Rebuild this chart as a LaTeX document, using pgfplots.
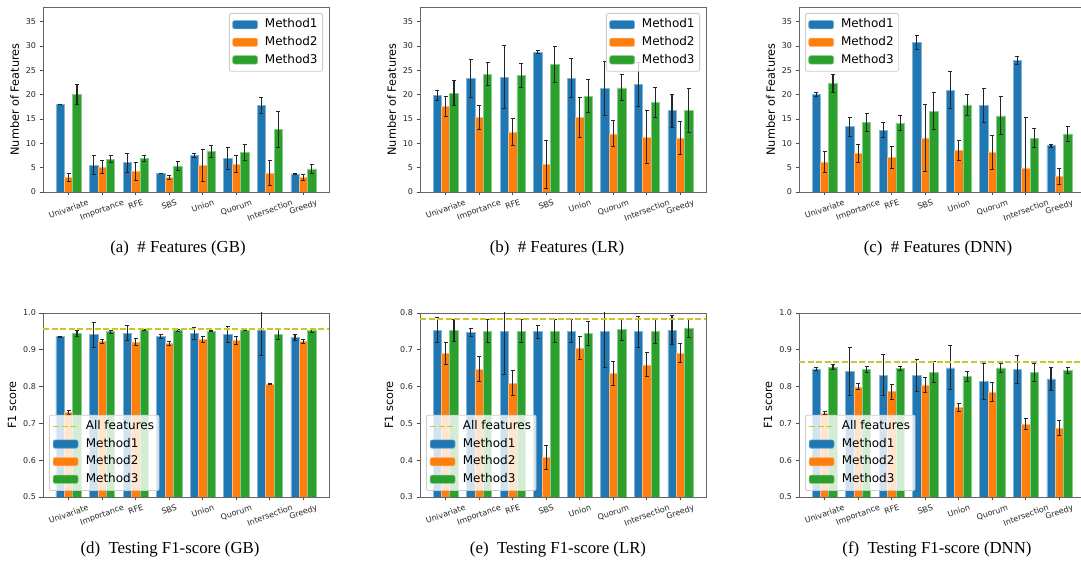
\documentclass[border=0pt]{standalone}
\usepackage{fontspec}
\setmainfont{DejaVu Sans}
\newfontfamily\capfont{Liberation Serif}
\usepackage{graphicx}
\usepackage{pgfplots}
\pgfplotsset{compat=1.18}
\definecolor{c1}{HTML}{1F77B4}
\definecolor{c2}{HTML}{FF7F0E}
\definecolor{c3}{HTML}{2CA02C}
\definecolor{yl}{RGB}{200,200,40}
\newcommand{\tickfont}{\fontsize{8}{9.6}\selectfont}
\newcommand{\labfont}{\fontsize{11.3}{13.5}\selectfont}
\newcommand{\legfont}{\fontsize{12}{14}\selectfont}
\newcommand{\capf}{\capfont\fontsize{16.8}{19}\selectfont}
\pgfplotsset{
 barleg/.style={legend image code/.code={\fill[##1,fill opacity=1] (0pt,-4.2pt) rectangle (25pt,4.2pt);}},
 lineleg/.style={legend image code/.code={\draw[##1,draw opacity=1] (0pt,0pt) -- (25pt,0pt);}},
 mybar/.style={ybar, bar width=0.25, bar shift=0pt, fill=#1, draw=#1!55!white, line width=0.6pt, barleg,
   /pgfplots/error bars/y dir=both, /pgfplots/error bars/y explicit,
   /pgfplots/error bars/error bar style={line width=1.1pt, black!85},
   /pgfplots/error bars/error mark options={rotate=90, black!85, line width=1pt, mark size=2pt}},
 refline/.style={yl, dash pattern=on 6pt off 2.6pt, line width=1.4pt},
 base/.style={scale only axis, width=286pt, xmin=-0.7625, xmax=7.7625,
   xtick={0,...,7},
   xticklabels={\rotatebox{20}{Univariate},\rotatebox{20}{Importance},\rotatebox{20}{RFE},\rotatebox{20}{SBS},\rotatebox{20}{Union},\rotatebox{20}{Quorum},\rotatebox{20}{Intersection},\rotatebox{20}{Greedy}},
   tick align=outside, tick pos=left, major tick length=3.5pt,
   axis line style={black!60, line width=0.8pt},
   tick style={black!70, line width=0.8pt},
   ticklabel style={font=\tickfont, text=black!85},
   xticklabel style={anchor=north},
   /pgf/number format/assume math mode=true,
   label style={font=\labfont},
   legend cell align=left,
   legend style={font=\legfont, draw=black!20, line width=0.8pt, rounded corners=2pt, fill=white, fill opacity=0.8, text opacity=1, draw opacity=1, inner xsep=3pt, inner ysep=2.5pt, row sep=0pt, /tikz/every odd column/.append style={column sep=5pt}, nodes={inner ysep=3.2pt, inner xsep=2pt, text height=8.8pt, text depth=2.4pt}},
 },
 toprow/.style={base, height=185pt, ymin=0, ymax=38, ytick={0,5,...,35}, ylabel={Number of Features}},
 botrow/.style={base, height=184pt, ylabel={F1 score}, ytick distance=0.1,
   yticklabel style={/pgf/number format/.cd, fixed, fixed zerofill, precision=1, assume math mode=true}},
 legTR/.style={legend style={at={(1,1)}, anchor=north east, xshift=-6pt, yshift=-6pt}},
 legTL/.style={legend style={at={(0,1)}, anchor=north west, xshift=6pt, yshift=-6pt}},
 legBL/.style={legend style={at={(0,0)}, anchor=south west, xshift=6pt, yshift=6pt}},
}
\begin{document}
\begin{tikzpicture}
\useasboundingbox (0,0) rectangle (1081pt,564pt);
% (a) # Features (GB)
\begin{axis}[toprow, legTR, at={(43pt,372pt)}, anchor=south west]
\addplot[mybar=c1] coordinates {(-0.25,18.0) +- (0,0.05) (0.75,5.5) +- (0,1.9) (1.75,6.0) +- (0,1.95) (2.75,3.85) +- (0,0.05) (3.75,7.45) +- (0,0.45) (4.75,6.85) +- (0,2.25) (5.75,17.75) +- (0,1.6) (6.75,3.7) +- (0,0.05)};
\addlegendentry{Method1}
\addplot[mybar=c2] coordinates {(0,3.0) +- (0,0.75) (1,5.15) +- (0,1.4) (2,4.25) +- (0,1.8) (3,2.95) +- (0,0.45) (4,5.5) +- (0,3.3) (5,5.75) +- (0,1.8) (6,3.9) +- (0,2.55) (7,2.95) +- (0,0.6)};
\addlegendentry{Method2}
\addplot[mybar=c3] coordinates {(0.25,20.0) +- (0,2.05) (1.25,6.7) +- (0,0.7) (2.25,6.9) +- (0,0.65) (3.25,5.35) +- (0,0.95) (4.25,8.3) +- (0,1.15) (5.25,8.1) +- (0,1.6) (6.25,12.85) +- (0,3.75) (7.25,4.75) +- (0,0.85)};
\addlegendentry{Method3}
\end{axis}
% (b) # Features (LR)
\begin{axis}[toprow, legTR, at={(420pt,372pt)}, anchor=south west]
\addplot[mybar=c1] coordinates {(-0.25,19.85) +- (0,1.05) (0.75,23.35) +- (0,3.9) (1.75,23.55) +- (0,6.5) (2.75,28.7) +- (0,0.35) (3.75,23.35) +- (0,4.0) (4.75,21.3) +- (0,5.6) (5.75,22.1) +- (0,4.5) (6.75,16.7) +- (0,3.4)};
\addlegendentry{Method1}
\addplot[mybar=c2] coordinates {(0,17.55) +- (0,2.0) (1,15.3) +- (0,2.5) (2,12.3) +- (0,2.8) (3,5.7) +- (0,4.9) (4,15.3) +- (0,4.05) (5,11.95) +- (0,2.65) (6,11.25) +- (0,5.45) (7,11.1) +- (0,3.35)};
\addlegendentry{Method2}
\addplot[mybar=c3] coordinates {(0.25,20.3) +- (0,2.55) (1.25,24.2) +- (0,2.4) (2.25,23.9) +- (0,2.5) (3.25,26.15) +- (0,3.65) (4.25,19.7) +- (0,3.45) (5.25,21.4) +- (0,2.7) (6.25,18.45) +- (0,3.05) (7.25,16.7) +- (0,4.55)};
\addlegendentry{Method3}
\end{axis}
% (c) # Features (DNN)
\begin{axis}[toprow, legTL, at={(799pt,372pt)}, anchor=south west]
\addplot[mybar=c1] coordinates {(-0.25,20.0) +- (0,0.4) (0.75,13.4) +- (0,1.9) (1.75,12.7) +- (0,1.5) (2.75,30.7) +- (0,1.4) (3.75,20.9) +- (0,3.8) (4.75,17.8) +- (0,3.45) (5.75,27.05) +- (0,0.8) (6.75,9.5) +- (0,0.35)};
\addlegendentry{Method1}
\addplot[mybar=c2] coordinates {(0,6.2) +- (0,2.1) (1,7.95) +- (0,1.8) (2,7.05) +- (0,2.3) (3,11.1) +- (0,6.8) (4,8.5) +- (0,2.05) (5,8.1) +- (0,3.5) (6,4.8) +- (0,10.4) (7,3.15) +- (0,1.7)};
\addlegendentry{Method2}
\addplot[mybar=c3] coordinates {(0.25,22.3) +- (0,1.8) (1.25,14.3) +- (0,1.9) (2.25,14.15) +- (0,1.55) (3.25,16.55) +- (0,3.8) (4.25,17.9) +- (0,2.2) (5.25,15.65) +- (0,3.9) (6.25,11.05) +- (0,1.9) (7.25,11.95) +- (0,1.55)};
\addlegendentry{Method3}
\end{axis}
% (d) F1 (GB)
\begin{axis}[botrow, legBL, ymin=0.5, ymax=1.0, at={(43pt,67pt)}, anchor=south west]
\addlegendimage{lineleg, refline}
\addlegendentry{All features}
\addplot[mybar=c1] coordinates {(-0.25,0.9355) +- (0,0.001) (0.75,0.941) +- (0,0.034) (1.75,0.9455) +- (0,0.021) (2.75,0.9364) +- (0,0.005) (3.75,0.9445) +- (0,0.017) (4.75,0.941) +- (0,0.021) (5.75,0.953) +- (0,0.068) (6.75,0.9345) +- (0,0.008)};
\addlegendentry{Method1}
\addplot[mybar=c2] coordinates {(0,0.729) +- (0,0.006) (1,0.9227) +- (0,0.006) (2,0.921) +- (0,0.009) (3,0.918) +- (0,0.005) (4,0.929) +- (0,0.008) (5,0.9255) +- (0,0.011) (6,0.807) +- (0,0.001) (7,0.9227) +- (0,0.006)};
\addlegendentry{Method2}
\addplot[mybar=c3] coordinates {(0.25,0.9436) +- (0,0.008) (1.25,0.949) +- (0,0.0045) (2.25,0.9536) +- (0,0.002) (3.25,0.952) +- (0,0.0035) (4.25,0.951) +- (0,0.002) (5.25,0.9536) +- (0,0.002) (6.25,0.941) +- (0,0.0136) (7.25,0.952) +- (0,0.004)};
\addlegendentry{Method3}
\addplot[refline, forget plot] coordinates {(-0.7625,0.957) (7.7625,0.957)};
\end{axis}
% (e) F1 (LR)
\begin{axis}[botrow, legBL, ymin=0.3, ymax=0.8, at={(420pt,67pt)}, anchor=south west]
\addlegendimage{lineleg, refline}
\addlegendentry{All features}
\addplot[mybar=c1] coordinates {(-0.25,0.7536) +- (0,0.0345) (0.75,0.747) +- (0,0.012) (1.75,0.749) +- (0,0.115) (2.75,0.749) +- (0,0.018) (3.75,0.751) +- (0,0.030) (4.75,0.751) +- (0,0.098) (5.75,0.749) +- (0,0.0427) (6.75,0.7536) +- (0,0.0386)};
\addlegendentry{Method1}
\addplot[mybar=c2] coordinates {(0,0.691) +- (0,0.030) (1,0.647) +- (0,0.0336) (2,0.609) +- (0,0.0336) (3,0.4073) +- (0,0.032) (4,0.7045) +- (0,0.031) (5,0.636) +- (0,0.032) (6,0.659) +- (0,0.0327) (7,0.691) +- (0,0.026)};
\addlegendentry{Method2}
\addplot[mybar=c3] coordinates {(0.25,0.7536) +- (0,0.030) (1.25,0.751) +- (0,0.030) (2.25,0.751) +- (0,0.031) (3.25,0.751) +- (0,0.030) (4.25,0.7445) +- (0,0.033) (5.25,0.7555) +- (0,0.029) (6.25,0.749) +- (0,0.032) (7.25,0.759) +- (0,0.026)};
\addlegendentry{Method3}
\addplot[refline, forget plot] coordinates {(-0.7625,0.784) (7.7625,0.784)};
\end{axis}
% (f) F1 (DNN)
\begin{axis}[botrow, legBL, ymin=0.5, ymax=1.0, at={(799pt,67pt)}, anchor=south west]
\addlegendimage{lineleg, refline}
\addlegendentry{All features}
\addplot[mybar=c1] coordinates {(-0.25,0.848) +- (0,0.004) (0.75,0.842) +- (0,0.065) (1.75,0.831) +- (0,0.055) (2.75,0.831) +- (0,0.0436) (3.75,0.851) +- (0,0.060) (4.75,0.8145) +- (0,0.0486) (5.75,0.8464) +- (0,0.0368) (6.75,0.821) +- (0,0.031)};
\addlegendentry{Method1}
\addplot[mybar=c2] coordinates {(0,0.728) +- (0,0.004) (1,0.799) +- (0,0.0082) (2,0.786) +- (0,0.020) (3,0.8045) +- (0,0.0205) (4,0.743) +- (0,0.0114) (5,0.7845) +- (0,0.026) (6,0.698) +- (0,0.014) (7,0.688) +- (0,0.021)};
\addlegendentry{Method2}
\addplot[mybar=c3] coordinates {(0.25,0.8527) +- (0,0.007) (1.25,0.8464) +- (0,0.0086) (2.25,0.849) +- (0,0.006) (3.25,0.839) +- (0,0.028) (4.25,0.828) +- (0,0.014) (5.25,0.851) +- (0,0.0114) (6.25,0.839) +- (0,0.025) (7.25,0.8445) +- (0,0.0086)};
\addlegendentry{Method3}
\addplot[refline, forget plot] coordinates {(-0.7625,0.867) (7.7625,0.867)};
\end{axis}
% captions
\node[font=\capf] at (178pt,316pt) {(a)\ \ \# Features (GB)};
\node[font=\capf] at (557pt,316pt) {(b)\ \ \# Features (LR)};
\node[font=\capf] at (938pt,316pt) {(c)\ \ \# Features (DNN)};
\node[font=\capf] at (170pt,15pt) {(d)\ \ Testing F1-score (GB)};
\node[font=\capf] at (558pt,15pt) {(e)\ \ Testing F1-score (LR)};
\node[font=\capf] at (937pt,15pt) {(f)\ \ Testing F1-score (DNN)};
\end{tikzpicture}
\end{document}
